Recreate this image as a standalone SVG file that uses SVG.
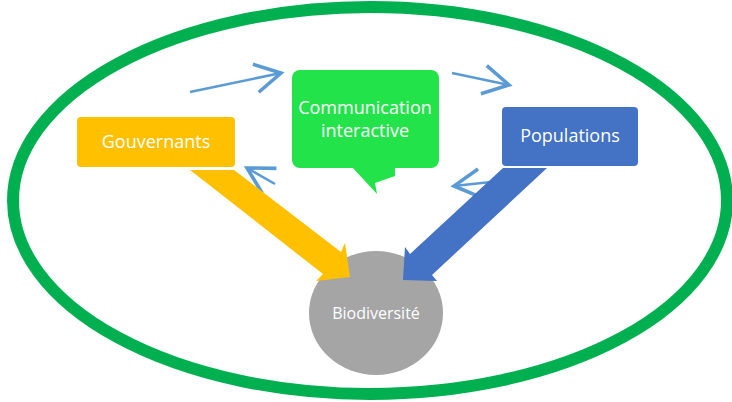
<svg xmlns="http://www.w3.org/2000/svg" width="732" height="402" viewBox="0 0 732 402">
<defs>
<style>
.lbl{font-family:"Open Sans","Liberation Sans",sans-serif;fill:#ffffff;text-anchor:middle}
.thin{fill:none;stroke:#5B9BD5;stroke-width:2.5;marker-end:url(#open)}
</style>
<marker id="open" markerUnits="userSpaceOnUse" markerWidth="40" markerHeight="40" refX="0" refY="0" viewBox="-22 -14 26 28" orient="auto">
<path d="M-18,-10 L0,0 L-18,10" fill="none" stroke="#5B9BD5" stroke-width="2.5"/>
</marker>
</defs>
<rect width="732" height="402" fill="#ffffff"/>
<g id="frame">
<ellipse cx="370" cy="200.5" rx="357" ry="193.5" fill="none" stroke="#00B050" stroke-width="12"/>
</g>
<g id="gouvernants">
<rect x="77" y="117" width="158" height="50" rx="4" fill="#FFC000"/>
<text class="lbl" x="156" y="148" font-size="18">Gouvernants</text>
</g>
<g id="communication">
<rect x="292" y="70" width="147" height="98" rx="8" fill="#23E34B"/>
<polygon points="352,167 395,167 395,176 375,183 377,194" fill="#23E34B"/>
<text class="lbl" x="365" y="114" font-size="18">Communication</text>
<text class="lbl" x="365" y="137" font-size="18">interactive</text>
</g>
<g id="populations">
<rect x="502" y="107" width="136" height="59" rx="4" fill="#4472C4"/>
<text class="lbl" x="570" y="142" font-size="18">Populations</text>
</g>
<g id="biodiversite">
<ellipse cx="376" cy="313" rx="67" ry="62" fill="#A5A5A5"/>
<text class="lbl" x="376" y="319" font-size="16">Biodiversité</text>
</g>
<g id="connectors">
<path class="thin" d="M190,92 L281,73"/>
<path class="thin" d="M452,73 L509,85"/>
<path class="thin" d="M275,184 L247,168"/>
<path class="thin" d="M500,181 L454,186"/>
<polygon id="arrow-gouv" points="190,170 234,170 341,252 345,243 350,277 316,281 323,274" fill="#FFC000"/>
<polygon id="arrow-pop" points="503,168 547,168 432,275 437,281 403,280 405,247 410,254" fill="#4472C4"/>
</g>
</svg>
